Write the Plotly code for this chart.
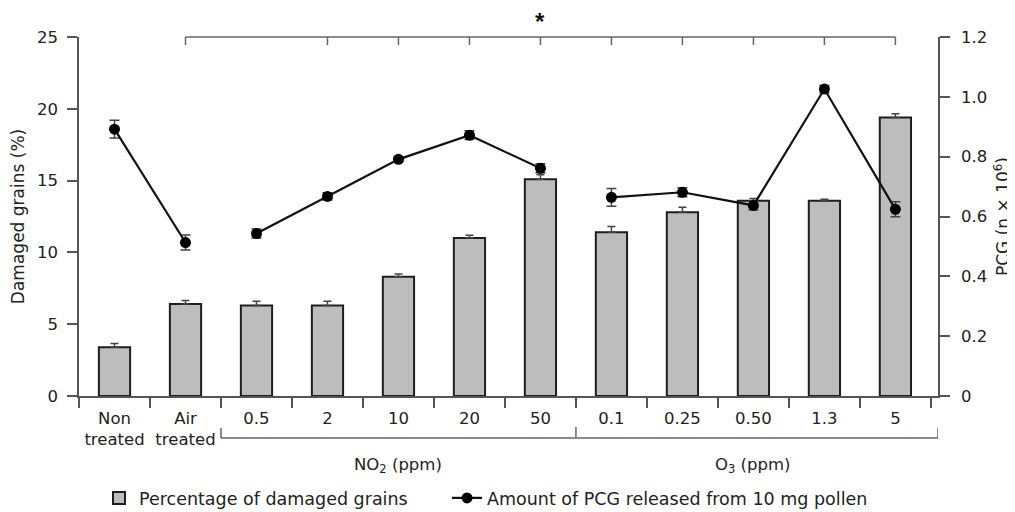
import plotly.graph_objects as go

# ---------------- data ----------------
categories = ["Non<br>treated", "Air<br>treated", "0.5", "2", "10", "20", "50",
              "0.1", "0.25", "0.50", "1.3", "5"]
damaged_pct = [3.4, 6.4, 6.3, 6.3, 8.3, 11.0, 15.1, 11.4, 12.8, 13.6, 13.6, 19.4]
damaged_err = [0.25, 0.25, 0.3, 0.3, 0.2, 0.2, 0.3, 0.4, 0.35, 0.15, 0.1, 0.25]
pcg_amount = [0.892, 0.513, 0.543, 0.667, 0.791, 0.872, 0.761, 0.664, 0.681, 0.637, 1.026, 0.624]
pcg_err = [0.03, 0.025, 0.015, 0.012, 0.008, 0.015, 0.015, 0.03, 0.015, 0.015, 0.012, 0.025]
line_segments = [(0, 2), (2, 7), (7, 12)]      # groups joined by the line
left_ticks = [0, 5, 10, 15, 20, 25]
right_ticks = [0, 0.2, 0.4, 0.6, 0.8, 1.0, 1.2]
right_ticktext = ["0", "0.2", "0.4", "0.6", "0.8", "1.0", "1.2"]
group_labels = ["NO<sub>2</sub> (ppm)", "O<sub>3</sub> (ppm)"]
group_label_at = [4, 9]
top_bracket_ticks = [3, 4, 5, 6, 7, 8, 9, 10]
bar_name = "Percentage of damaged grains"
line_name = "Amount of PCG released from 10 mg pollen"

# ---------------- style ----------------
FONT = "DejaVu Sans"
TXT = "#222222"
AX = "#555555"
PAGE = 8                      # default body margin of the html page
W, H = 1015 - PAGE, 512 - PAGE
PLOT_L, PLOT_R, PLOT_T, PLOT_B = 79, 938, 37, 396    # plot area in window pixels
L, R = PLOT_L - PAGE, W - (PLOT_R - PAGE)
T, B = PLOT_T - PAGE, H - (PLOT_B - PAGE)
PH = PLOT_B - PLOT_T
PW = PLOT_R - PLOT_L


def py(pix):
    """window pixel row -> paper y"""
    return (PLOT_B - pix) / PH


def px(pix):
    """window pixel column -> paper x"""
    return (pix - PLOT_L) / PW


fig = go.Figure()

fig.add_trace(go.Bar(
    x=categories, y=damaged_pct, name=bar_name, width=0.44,
    marker=dict(color="#bdbdbd", line=dict(color="#1e1e1e", width=2)),
    error_y=dict(type="data", array=damaged_err, arrayminus=[0] * len(damaged_err),
                 color="#444444", thickness=1.5, width=4),
    legend="legend", showlegend=True,
))

for i, (a, b) in enumerate(line_segments):
    fig.add_trace(go.Scatter(
        x=categories[a:b], y=pcg_amount[a:b], yaxis="y2", mode="lines+markers",
        name=line_name, legendgroup="pcg", showlegend=(i == 0), legend="legend2",
        line=dict(color="#111111", width=2.2),
        marker=dict(color="#000000", size=11),
        error_y=dict(type="data", array=pcg_err[a:b], color="#444444",
                     thickness=1.5, width=5),
    ))

# top significance bracket
shapes = []
line_style = dict(color="#666666", width=1.5)
shapes.append(dict(type="line", xref="x", yref="paper", x0=1, x1=11,
                   y0=py(37), y1=py(37), line=line_style))
for k in [1, 11] + top_bracket_ticks:
    shapes.append(dict(type="line", xref="x", yref="paper", x0=k, x1=k,
                       y0=py(37), y1=py(45), line=line_style))

# lower grouping bracket
shapes.append(dict(type="line", xref="x", yref="paper", x0=1.5, x1=11.6,
                   y0=py(438), y1=py(438), line=line_style))
for k in [1.5, 11.6]:
    shapes.append(dict(type="line", xref="x", yref="paper", x0=k, x1=k,
                       y0=py(438), y1=py(428), line=line_style))
shapes.append(dict(type="line", xref="x", yref="paper", x0=6.5, x1=6.5,
                   y0=py(437), y1=py(427), line=line_style))

annotations = [dict(x=6, y=py(22), xref="x", yref="paper", text="<b>*</b>",
                    showarrow=False, yanchor="middle",
                    font=dict(family="Liberation Sans", size=24, color="#111111"))]
for lab, k in zip(group_labels, group_label_at):
    annotations.append(dict(x=k, y=py(465), xref="x", yref="paper", text=lab,
                            showarrow=False, yanchor="middle",
                            font=dict(family=FONT, size=16.5, color=TXT)))

fig.update_layout(
    width=W, height=H, margin=dict(l=L, r=R, t=T, b=B, autoexpand=False),
    paper_bgcolor="white", plot_bgcolor="white",
    font=dict(family=FONT, size=16.5, color=TXT),
    xaxis=dict(type="category", range=[-0.5, 11.6], showline=True, linecolor=AX,
               linewidth=1.5, ticks="outside", tickson="boundaries", ticklen=10,
               tickcolor=AX, tickwidth=1.5, showgrid=False, zeroline=False,
               ticklabelstandoff=6, tickfont=dict(size=16.5), automargin=False),
    yaxis=dict(range=[0, 25], tickvals=left_ticks, showline=True, linecolor=AX,
               linewidth=1.5, ticks="outside", ticklen=10, tickcolor=AX, tickwidth=1.5,
               showgrid=False, zeroline=False, ticklabelstandoff=6, automargin=False,
               title=dict(text="Damaged grains (%)", standoff=14,
                          font=dict(size=17))),
    yaxis2=dict(range=[0, 1.2], tickvals=right_ticks, ticktext=right_ticktext,
                overlaying="y", side="right", showline=True, linecolor=AX,
                linewidth=1.5, ticks="outside", ticklen=10, tickcolor=AX,
                tickwidth=1.5, showgrid=False, zeroline=False, ticklabelstandoff=8,
                automargin=False,
                title=dict(text="PCG (n × 10<sup>6</sup>)", standoff=11,
                           font=dict(size=17))),
    legend=dict(orientation="h", x=px(99), xanchor="left",
                y=py(498), yanchor="middle", font=dict(size=17.5), bgcolor="rgba(0,0,0,0)"),
    legend2=dict(orientation="h", x=px(447), xanchor="left",
                 y=py(498), yanchor="middle", font=dict(size=17.5), bgcolor="rgba(0,0,0,0)"),
    shapes=shapes, annotations=annotations,
)

fig.write_html("out.html")
